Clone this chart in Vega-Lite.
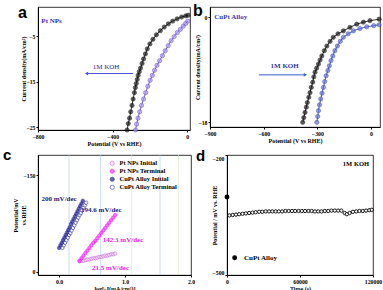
{
"$schema": "https://vega.github.io/schema/vega-lite/v6.json",
"padding": {"left": 2, "top": 2, "right": 1, "bottom": 1},
"background": "white",
"config": {
  "view": {"stroke": "#000", "strokeWidth": 0.8},
  "axis": {"labelFont": "Liberation Serif", "labelFontWeight": "bold", "labelFontSize": 5.8, "labelColor": "#000", "labelOverlap": false,
           "titleFont": "Liberation Serif", "titleFontWeight": "bold", "titleFontSize": 6, "titleColor": "#000",
           "domainColor": "#000", "tickColor": "#000", "tickSize": 2, "labelPadding": 1, "grid": false, "labelFlush": false},
  "axisX": {"titleY": 10},
  "legend": {"labelFont": "Liberation Serif", "labelFontWeight": "bold", "labelFontSize": 7, "labelColor": "#000"},
  "title": {"font": "Liberation Sans", "fontWeight": "bold", "fontSize": 16, "color": "#000", "anchor": "start", "frame": "group", "offset": 0, "baseline": "alphabetic"}
},
"datasets": {
  "a": [
    {"s":"Terminal","x":-322,"y":-25.6},{"s":"Terminal","x":-316,"y":-24.2},{"s":"Terminal","x":-309,"y":-23.0},{"s":"Terminal","x":-303,"y":-21.6},
    {"s":"Terminal","x":-296,"y":-20.2},{"s":"Terminal","x":-290,"y":-18.8},{"s":"Terminal","x":-283,"y":-17.4},{"s":"Terminal","x":-278,"y":-16.3},
    {"s":"Terminal","x":-273,"y":-15.4},{"s":"Terminal","x":-268,"y":-14.5},{"s":"Terminal","x":-263,"y":-13.6},{"s":"Terminal","x":-257,"y":-12.8},
    {"s":"Terminal","x":-250,"y":-12.0},{"s":"Terminal","x":-242,"y":-11.0},{"s":"Terminal","x":-234,"y":-10.0},{"s":"Terminal","x":-224,"y":-8.9},
    {"s":"Terminal","x":-214,"y":-7.8},{"s":"Terminal","x":-200,"y":-6.7},{"s":"Terminal","x":-184,"y":-5.7},{"s":"Terminal","x":-165,"y":-4.7},
    {"s":"Terminal","x":-144,"y":-3.8},{"s":"Terminal","x":-123,"y":-3.0},{"s":"Terminal","x":-101,"y":-2.3},{"s":"Terminal","x":-78,"y":-1.7},
    {"s":"Terminal","x":-54,"y":-1.2},{"s":"Terminal","x":-30,"y":-0.8},{"s":"Terminal","x":-8,"y":-0.55},{"s":"Terminal","x":5,"y":-0.4},
    {"s":"Initial","x":-277,"y":-25.6},{"s":"Initial","x":-271,"y":-24.3},{"s":"Initial","x":-264,"y":-23.0},{"s":"Initial","x":-255,"y":-21.6},
    {"s":"Initial","x":-245,"y":-20.2},{"s":"Initial","x":-234,"y":-18.8},{"s":"Initial","x":-223,"y":-17.4},{"s":"Initial","x":-211,"y":-16.0},
    {"s":"Initial","x":-199,"y":-14.7},{"s":"Initial","x":-187,"y":-13.6},{"s":"Initial","x":-175,"y":-12.5},{"s":"Initial","x":-162,"y":-11.4},
    {"s":"Initial","x":-148,"y":-10.4},{"s":"Initial","x":-133,"y":-9.3},{"s":"Initial","x":-118,"y":-8.2},{"s":"Initial","x":-102,"y":-7.1},
    {"s":"Initial","x":-86,"y":-6.0},{"s":"Initial","x":-70,"y":-5.1},{"s":"Initial","x":-53,"y":-4.2},{"s":"Initial","x":-37,"y":-3.5},
    {"s":"Initial","x":-21,"y":-2.8},{"s":"Initial","x":-8,"y":-2.2},{"s":"Initial","x":3,"y":-1.7}
  ],
  "b": [
    {"s":"Initial","x":-382,"y":-18.0},{"s":"Initial","x":-376,"y":-17.2},{"s":"Initial","x":-369,"y":-16.3},{"s":"Initial","x":-362,"y":-15.4},
    {"s":"Initial","x":-356,"y":-14.6},{"s":"Initial","x":-348,"y":-13.7},{"s":"Initial","x":-341,"y":-12.9},{"s":"Initial","x":-334,"y":-12.0},
    {"s":"Initial","x":-326,"y":-11.1},{"s":"Initial","x":-320,"y":-10.2},{"s":"Initial","x":-313,"y":-9.4},{"s":"Initial","x":-304,"y":-8.7},
    {"s":"Initial","x":-294,"y":-8.0},{"s":"Initial","x":-285,"y":-7.3},{"s":"Initial","x":-275,"y":-6.6},{"s":"Initial","x":-261,"y":-5.7},
    {"s":"Initial","x":-247,"y":-4.9},{"s":"Initial","x":-229,"y":-4.1},{"s":"Initial","x":-211,"y":-3.4},{"s":"Initial","x":-185,"y":-2.8},
    {"s":"Initial","x":-155,"y":-2.3},{"s":"Initial","x":-118,"y":-1.7},{"s":"Initial","x":-80,"y":-1.15},{"s":"Initial","x":-43,"y":-0.8},
    {"s":"Initial","x":-6,"y":-0.55},{"s":"Initial","x":45,"y":-0.3},
    {"s":"Terminal","x":-303,"y":-18.0},{"s":"Terminal","x":-298,"y":-17.0},{"s":"Terminal","x":-294,"y":-16.0},{"s":"Terminal","x":-288,"y":-15.0},
    {"s":"Terminal","x":-281,"y":-14.0},{"s":"Terminal","x":-274,"y":-13.0},{"s":"Terminal","x":-266,"y":-12.0},{"s":"Terminal","x":-259,"y":-11.0},
    {"s":"Terminal","x":-251,"y":-10.0},{"s":"Terminal","x":-241,"y":-9.1},{"s":"Terminal","x":-233,"y":-8.3},{"s":"Terminal","x":-224,"y":-7.4},
    {"s":"Terminal","x":-214,"y":-6.6},{"s":"Terminal","x":-202,"y":-5.7},{"s":"Terminal","x":-188,"y":-4.9},{"s":"Terminal","x":-172,"y":-4.1},
    {"s":"Terminal","x":-155,"y":-3.4},{"s":"Terminal","x":-128,"y":-2.8},{"s":"Terminal","x":-99,"y":-2.3},{"s":"Terminal","x":-62,"y":-1.9},
    {"s":"Terminal","x":-24,"y":-1.6},{"s":"Terminal","x":15,"y":-1.4},{"s":"Terminal","x":45,"y":-1.25}
  ],
  "c": [
    {"s":"CuPt Alloy Terminal","x":0.05,"y":-37},{"s":"CuPt Alloy Terminal","x":0.07,"y":-41},{"s":"CuPt Alloy Terminal","x":0.09,"y":-45},{"s":"CuPt Alloy Terminal","x":0.11,"y":-49},
    {"s":"CuPt Alloy Terminal","x":0.13,"y":-53},{"s":"CuPt Alloy Terminal","x":0.15,"y":-57},{"s":"CuPt Alloy Terminal","x":0.17,"y":-60},{"s":"CuPt Alloy Terminal","x":0.19,"y":-64},
    {"s":"CuPt Alloy Terminal","x":0.21,"y":-68},{"s":"CuPt Alloy Terminal","x":0.23,"y":-72},{"s":"CuPt Alloy Terminal","x":0.25,"y":-76},{"s":"CuPt Alloy Terminal","x":0.27,"y":-80},
    {"s":"CuPt Alloy Terminal","x":0.29,"y":-84},{"s":"CuPt Alloy Terminal","x":0.31,"y":-88},{"s":"CuPt Alloy Terminal","x":0.33,"y":-91},{"s":"CuPt Alloy Terminal","x":0.35,"y":-95},
    {"s":"CuPt Alloy Terminal","x":0.37,"y":-99},{"s":"CuPt Alloy Terminal","x":0.39,"y":-103},{"s":"CuPt Alloy Terminal","x":0.41,"y":-107},
    {"s":"CuPt Alloy Initial","x":0.00,"y":-37},{"s":"CuPt Alloy Initial","x":0.02,"y":-41},{"s":"CuPt Alloy Initial","x":0.04,"y":-45},{"s":"CuPt Alloy Initial","x":0.06,"y":-49},
    {"s":"CuPt Alloy Initial","x":0.08,"y":-53},{"s":"CuPt Alloy Initial","x":0.10,"y":-57},{"s":"CuPt Alloy Initial","x":0.12,"y":-61},{"s":"CuPt Alloy Initial","x":0.14,"y":-65},
    {"s":"CuPt Alloy Initial","x":0.16,"y":-69},{"s":"CuPt Alloy Initial","x":0.18,"y":-74},{"s":"CuPt Alloy Initial","x":0.20,"y":-78},{"s":"CuPt Alloy Initial","x":0.22,"y":-82},
    {"s":"CuPt Alloy Initial","x":0.24,"y":-86},{"s":"CuPt Alloy Initial","x":0.26,"y":-90},{"s":"CuPt Alloy Initial","x":0.28,"y":-94},{"s":"CuPt Alloy Initial","x":0.30,"y":-98},
    {"s":"CuPt Alloy Initial","x":0.32,"y":-102},{"s":"CuPt Alloy Initial","x":0.34,"y":-106},{"s":"CuPt Alloy Initial","x":0.36,"y":-110},
    {"s":"Pt NPs Initial","x":0.31,"y":-16},{"s":"Pt NPs Initial","x":0.34,"y":-17},{"s":"Pt NPs Initial","x":0.37,"y":-17},{"s":"Pt NPs Initial","x":0.40,"y":-18},
    {"s":"Pt NPs Initial","x":0.43,"y":-19},{"s":"Pt NPs Initial","x":0.46,"y":-19},{"s":"Pt NPs Initial","x":0.49,"y":-20},{"s":"Pt NPs Initial","x":0.52,"y":-21},
    {"s":"Pt NPs Initial","x":0.55,"y":-21},{"s":"Pt NPs Initial","x":0.58,"y":-22},{"s":"Pt NPs Initial","x":0.61,"y":-23},{"s":"Pt NPs Initial","x":0.64,"y":-23},
    {"s":"Pt NPs Initial","x":0.67,"y":-24},{"s":"Pt NPs Initial","x":0.70,"y":-25},{"s":"Pt NPs Initial","x":0.73,"y":-25},{"s":"Pt NPs Initial","x":0.76,"y":-26},
    {"s":"Pt NPs Initial","x":0.79,"y":-27},{"s":"Pt NPs Initial","x":0.82,"y":-27},{"s":"Pt NPs Initial","x":0.85,"y":-28},
    {"s":"Pt NPs Terminal","x":0.31,"y":-17},{"s":"Pt NPs Terminal","x":0.34,"y":-21},{"s":"Pt NPs Terminal","x":0.37,"y":-25},{"s":"Pt NPs Terminal","x":0.40,"y":-29},
    {"s":"Pt NPs Terminal","x":0.43,"y":-33},{"s":"Pt NPs Terminal","x":0.46,"y":-37},{"s":"Pt NPs Terminal","x":0.49,"y":-41},{"s":"Pt NPs Terminal","x":0.52,"y":-45},
    {"s":"Pt NPs Terminal","x":0.55,"y":-48},{"s":"Pt NPs Terminal","x":0.58,"y":-52},{"s":"Pt NPs Terminal","x":0.61,"y":-56},{"s":"Pt NPs Terminal","x":0.64,"y":-60},
    {"s":"Pt NPs Terminal","x":0.67,"y":-64},{"s":"Pt NPs Terminal","x":0.70,"y":-68},{"s":"Pt NPs Terminal","x":0.73,"y":-72},{"s":"Pt NPs Terminal","x":0.76,"y":-76},
    {"s":"Pt NPs Terminal","x":0.79,"y":-80},{"s":"Pt NPs Terminal","x":0.82,"y":-84},{"s":"Pt NPs Terminal","x":0.85,"y":-88}
  ],
  "d": [
    {"t":2000,"v":-351},{"t":4700,"v":-350},{"t":7400,"v":-349},{"t":10000,"v":-348},{"t":12800,"v":-347},{"t":15500,"v":-346},
    {"t":18200,"v":-345},{"t":21000,"v":-344},{"t":23600,"v":-343},{"t":26400,"v":-342},{"t":29000,"v":-342},{"t":31800,"v":-341},
    {"t":34500,"v":-341},{"t":37200,"v":-341},{"t":40000,"v":-341},{"t":42600,"v":-341},{"t":45300,"v":-341},{"t":48000,"v":-340},
    {"t":50700,"v":-340},{"t":53400,"v":-340},{"t":56000,"v":-340},{"t":58800,"v":-340},{"t":61500,"v":-340},{"t":64200,"v":-340},
    {"t":67000,"v":-340},{"t":69600,"v":-340},{"t":72300,"v":-341},{"t":75000,"v":-341},{"t":77700,"v":-341},{"t":80400,"v":-340},
    {"t":83200,"v":-340},{"t":85900,"v":-339},{"t":88600,"v":-339},{"t":91300,"v":-339},{"t":94000,"v":-339},{"t":96700,"v":-345},
    {"t":98500,"v":-348},{"t":100800,"v":-345},{"t":103500,"v":-342},{"t":106200,"v":-341},{"t":108900,"v":-340},{"t":111600,"v":-340},
    {"t":114300,"v":-339},{"t":117000,"v":-338},{"t":119000,"v":-337}
  ]
},
"spacing": 0,
"resolve": {"scale": {"fill": "independent", "stroke": "independent", "color": "independent"}, "legend": {"fill": "independent", "stroke": "independent", "color": "independent"}},
"vconcat": [
 {"bounds": "flush", "spacing": 20,
  "resolve": {"scale": {"fill": "independent", "stroke": "independent", "color": "independent"}, "legend": {"fill": "independent", "stroke": "independent", "color": "independent"}},
  "hconcat": [
  {"width": 152, "height": 123,
   "title": {"text": "a", "dx": -20, "dy": 18},
   "layer": [
    {"data": {"name": "a"}, "mark": {"type": "line", "strokeWidth": 0.8},
     "encoding": {
       "x": {"field": "x", "type": "quantitative", "scale": {"domain": [-800, 15], "nice": false}, "axis": {"title": "Potential (V vs RHE)", "values": [-800,-700,-600,-500,-400,-300,-200,-100,0], "labelOverlap": false}},
       "y": {"field": "y", "type": "quantitative", "scale": {"domain": [-25.6, 1.4], "nice": false}, "axis": {"title": "Current density(mA/cm²)", "values": [0,-5,-10,-15,-20,-25], "titleX": -12, "labelOverlap": false}},
       "stroke": {"field": "s", "type": "nominal", "scale": {"domain": ["Initial","Terminal"], "range": ["#5a3fc8","#000000"]}, "legend": null}}},
    {"data": {"name": "a"}, "mark": {"type": "point", "filled": true, "size": 18, "strokeWidth": 0.7, "shape": "circle"},
     "encoding": {
       "x": {"field": "x", "type": "quantitative"},
       "y": {"field": "y", "type": "quantitative"},
       "fill": {"field": "s", "type": "nominal", "scale": {"domain": ["Initial","Terminal"], "range": ["#a994f2","#1a1a1a"]},
         "legend": {"title": null, "orient": "none", "legendX": 1, "legendY": 100, "symbolType": "M-1,0L-0.3,0M0.3,0L1,0M0.3,0A0.3,0.3,0,1,1,-0.3,0A0.3,0.3,0,1,1,0.3,0Z",
           "symbolSize": 256, "symbolStrokeWidth": 0.8, "strokeColor": "#000", "padding": 2, "rowPadding": 0, "labelFontSize": 7.5,
           "encode": {"labels": {"update": {"fill": {"signal": "datum.label === 'Initial' ? '#5a3fc8' : '#000'"}}}, "symbols": {"update": {"stroke": {"signal": "datum.label === 'Initial' ? '#5a3fc8' : '#000'"}}}}}},
       "stroke": {"field": "s", "type": "nominal", "legend": null}}},
    {"data": {"values": [{"x": -782, "y": -1.7, "t": "Pt NPs"}]}, "mark": {"type": "text", "align": "left", "baseline": "middle", "font": "Liberation Serif", "fontWeight": "bold", "fontSize": 7, "color": "#2f2fc8"},
     "encoding": {"x": {"field": "x", "type": "quantitative"}, "y": {"field": "y", "type": "quantitative"}, "text": {"field": "t"}}},
    {"data": {"values": [{"x": -435, "y": -11.8, "t": "1M  KOH"}]}, "mark": {"type": "text", "align": "center", "baseline": "middle", "font": "Liberation Serif", "fontSize": 7, "color": "#2a2a90"},
     "encoding": {"x": {"field": "x", "type": "quantitative"}, "y": {"field": "y", "type": "quantitative"}, "text": {"field": "t"}}},
    {"data": {"values": [{"x": -538, "x2": -290, "y": -13.2}]}, "mark": {"type": "rule", "color": "#5050e0", "strokeWidth": 1},
     "encoding": {"x": {"field": "x", "type": "quantitative"}, "x2": {"field": "x2"}, "y": {"field": "y", "type": "quantitative"}}},
    {"data": {"values": [{"x": -540, "y": -13.2}]}, "mark": {"type": "point", "shape": "triangle-left", "filled": true, "size": 14, "color": "#5050e0", "opacity": 1},
     "encoding": {"x": {"field": "x", "type": "quantitative"}, "y": {"field": "y", "type": "quantitative"}}}
   ]},
  {"width": 170, "height": 120,
   "title": {"text": "b", "dx": -17, "dy": 16},
   "layer": [
    {"data": {"name": "b"}, "mark": {"type": "line", "strokeWidth": 0.8},
     "encoding": {
       "x": {"field": "x", "type": "quantitative", "scale": {"domain": [-900, 50], "nice": false}, "axis": {"title": "Potential (V vs RHE)", "values": [-900,-750,-600,-450,-300,-150,0], "labelOverlap": false}},
       "y": {"field": "y", "type": "quantitative", "scale": {"domain": [-18.8, 1.8], "nice": false}, "axis": {"title": "Current density(mA/cm²)", "values": [0,-3,-6,-9,-12,-15,-18], "titleX": -10, "labelOverlap": false}},
       "stroke": {"field": "s", "type": "nominal", "scale": {"domain": ["Initial","Terminal"], "range": ["#000000","#2a3ab0"]}, "legend": null}}},
    {"data": {"name": "b"}, "mark": {"type": "point", "filled": true, "size": 18, "strokeWidth": 0.7, "shape": "circle"},
     "encoding": {
       "x": {"field": "x", "type": "quantitative"},
       "y": {"field": "y", "type": "quantitative"},
       "fill": {"field": "s", "type": "nominal", "scale": {"domain": ["Initial","Terminal"], "range": ["#1a1a1a","#6474d0"]},
         "legend": {"title": null, "orient": "none", "legendX": 8, "legendY": 91, "symbolType": "M-1,0L-0.3,0M0.3,0L1,0M0.3,0A0.3,0.3,0,1,1,-0.3,0A0.3,0.3,0,1,1,0.3,0Z",
           "symbolSize": 256, "symbolStrokeWidth": 0.8, "padding": 2, "rowPadding": 0, "labelFontSize": 7.5,
           "encode": {"labels": {"update": {"fill": {"signal": "datum.label === 'Initial' ? '#000' : '#2a3ab0'"}}}, "symbols": {"update": {"stroke": {"signal": "datum.label === 'Initial' ? '#000' : '#2a3ab0'"}}}}}},
       "stroke": {"field": "s", "type": "nominal", "legend": null}}},
    {"data": {"values": [{"x": -876, "y": 0.0, "t": "CuPt Alloy"}]}, "mark": {"type": "text", "align": "left", "baseline": "middle", "font": "Liberation Serif", "fontWeight": "bold", "fontSize": 7, "color": "#2f3fb8"},
     "encoding": {"x": {"field": "x", "type": "quantitative"}, "y": {"field": "y", "type": "quantitative"}, "text": {"field": "t"}}},
    {"data": {"values": [{"x": -483, "y": -8.4, "t": "1M  KOH"}]}, "mark": {"type": "text", "align": "center", "baseline": "middle", "font": "Liberation Serif", "fontWeight": "bold", "fontSize": 7, "color": "#2a3aa0"},
     "encoding": {"x": {"field": "x", "type": "quantitative"}, "y": {"field": "y", "type": "quantitative"}, "text": {"field": "t"}}},
    {"data": {"values": [{"x": -627, "x2": -370, "y": -9.85}]}, "mark": {"type": "rule", "color": "#3a5ad0", "strokeWidth": 1},
     "encoding": {"x": {"field": "x", "type": "quantitative"}, "x2": {"field": "x2"}, "y": {"field": "y", "type": "quantitative"}}},
    {"data": {"values": [{"x": -367, "y": -9.85}]}, "mark": {"type": "point", "shape": "triangle-right", "filled": true, "size": 14, "color": "#3a5ad0", "opacity": 1},
     "encoding": {"x": {"field": "x", "type": "quantitative"}, "y": {"field": "y", "type": "quantitative"}}}
   ]}
 ]},
 {"bounds": "flush", "spacing": 36,
  "resolve": {"scale": {"fill": "independent", "stroke": "independent", "color": "independent"}, "legend": {"fill": "independent", "stroke": "independent", "color": "independent"}},
  "hconcat": [
   {"width": 153, "height": 120,
    "title": {"text": "c", "dx": -35, "dy": 12, "fontSize": 15},
    "layer": [
     {"data": {"values": [{"x": 0.15, "g": "b"}, {"x": 0.63, "g": "b"}, {"x": 1.53, "g": "b"}, {"x": 1.1, "g": "g"}, {"x": 1.81, "g": "g"}]},
      "mark": {"type": "rule", "strokeWidth": 1, "opacity": 0.6},
      "encoding": {"x": {"field": "x", "type": "quantitative", "scale": {"domain": [-0.32, 2.0], "nice": false}, "axis": {"title": "log[-J(mA/cm²)]", "values": [0, 0.5, 1, 1.5, 2], "format": ".1f", "labelOverlap": false}},
        "color": {"field": "g", "type": "nominal", "scale": {"domain": ["b", "g"], "range": ["#a9c9ee", "#cfe9c0"]}, "legend": null}}},
     {"data": {"name": "c"}, "mark": {"type": "point", "filled": true, "size": 12, "strokeWidth": 0.8, "shape": "circle"},
      "encoding": {
        "x": {"field": "x", "type": "quantitative"},
        "y": {"field": "y", "type": "quantitative", "scale": {"domain": [-181, 5], "nice": false, "reverse": true}, "axis": {"title": ["Potential/mV", "vs.RHE"], "values": [-150, -100, -50, 0], "titleLineHeight": 8, "titleX": -20, "labelOverlap": false}},
        "fill": {"field": "s", "type": "nominal", "scale": {"domain": ["Pt NPs Initial", "Pt NPs Terminal", "CuPt Alloy Initial", "CuPt Alloy Terminal"], "range": ["#fbe0fb", "#ff30ff", "#1c1ca0", "#ffffff"]},
          "legend": {"title": null, "orient": "none", "legendX": 71, "legendY": 5, "symbolType": "circle", "symbolSize": 18, "symbolStrokeWidth": 0.8, "padding": 0, "rowPadding": 0, "labelFontSize": 6.5, "labelOffset": 4,
            "encode": {"labels": {"update": {"fill": {"signal": "datum.label === 'Pt NPs Initial' ? '#e060e6' : datum.label === 'Pt NPs Terminal' ? '#f020f0' : datum.label === 'CuPt Alloy Initial' ? '#141480' : '#2a2aa8'"}}}}}},
        "stroke": {"field": "s", "type": "nominal", "scale": {"domain": ["Pt NPs Initial", "Pt NPs Terminal", "CuPt Alloy Initial", "CuPt Alloy Terminal"], "range": ["#c060d8", "#ee00ee", "#10107a", "#2222aa"]}}}},
     {"data": {"values": [
        {"x": 0.0, "y": -113, "t": "200 mV/dec", "k": "n"},
        {"x": 0.64, "y": -96, "t": "194.6 mV/dec", "k": "n"},
        {"x": 0.97, "y": -49.5, "t": "142.3 mV/dec", "k": "m"},
        {"x": 0.78, "y": -6, "t": "21.5 mV/dec", "k": "m"}]},
      "mark": {"type": "text", "align": "center", "baseline": "middle", "font": "Liberation Serif", "fontWeight": "bold", "fontSize": 7},
      "encoding": {"x": {"field": "x", "type": "quantitative"}, "y": {"field": "y", "type": "quantitative"}, "text": {"field": "t"},
        "color": {"field": "k", "type": "nominal", "scale": {"domain": ["n", "m"], "range": ["#1a1a80", "#f020e8"]}, "legend": null}}}
    ],
    "resolve": {"scale": {"color": "independent"}}},
   {"width": 146, "height": 120,
    "title": {"text": "d", "dx": -31, "dy": 13, "fontSize": 15},
    "layer": [
     {"data": {"name": "d"}, "mark": {"type": "point", "filled": true, "fill": "#fff", "stroke": "#000", "size": 11, "strokeWidth": 0.9, "shape": "circle", "opacity": 1},
      "encoding": {
        "x": {"field": "t", "type": "quantitative", "scale": {"domain": [0, 120000], "nice": false}, "axis": {"title": "Time (s)", "values": [0, 30000, 60000, 90000, 120000], "format": "d", "labelOverlap": false}},
        "y": {"field": "v", "type": "quantitative", "scale": {"domain": [-500, -200], "nice": false}, "axis": {"title": "Potential / mV vs. RHE", "values": [-200, -250, -300, -350, -400, -450, -500], "titleX": -10, "labelOverlap": false, "labelFlush": true}}}},
     {"data": {"values": [{"t": 0, "v": -305}, {"t": 6300, "v": -457}]}, "mark": {"type": "point", "filled": true, "size": 24, "color": "#000", "opacity": 1},
      "encoding": {"x": {"field": "t", "type": "quantitative"}, "y": {"field": "v", "type": "quantitative"}}},
     {"data": {"values": [{"t": 14000, "v": -457, "k": "CuPt Alloy"}]}, "mark": {"type": "text", "align": "left", "baseline": "middle", "font": "Liberation Serif", "fontWeight": "bold", "fontSize": 7, "color": "#000"},
      "encoding": {"x": {"field": "t", "type": "quantitative"}, "y": {"field": "v", "type": "quantitative"}, "text": {"field": "k"}}},
     {"data": {"values": [{"t": 106000, "v": -223, "k": "1M KOH"}]}, "mark": {"type": "text", "align": "center", "baseline": "middle", "font": "Liberation Serif", "fontWeight": "bold", "fontSize": 6.5, "color": "#000"},
      "encoding": {"x": {"field": "t", "type": "quantitative"}, "y": {"field": "v", "type": "quantitative"}, "text": {"field": "k"}}}
    ]}
 ]}
]
}
